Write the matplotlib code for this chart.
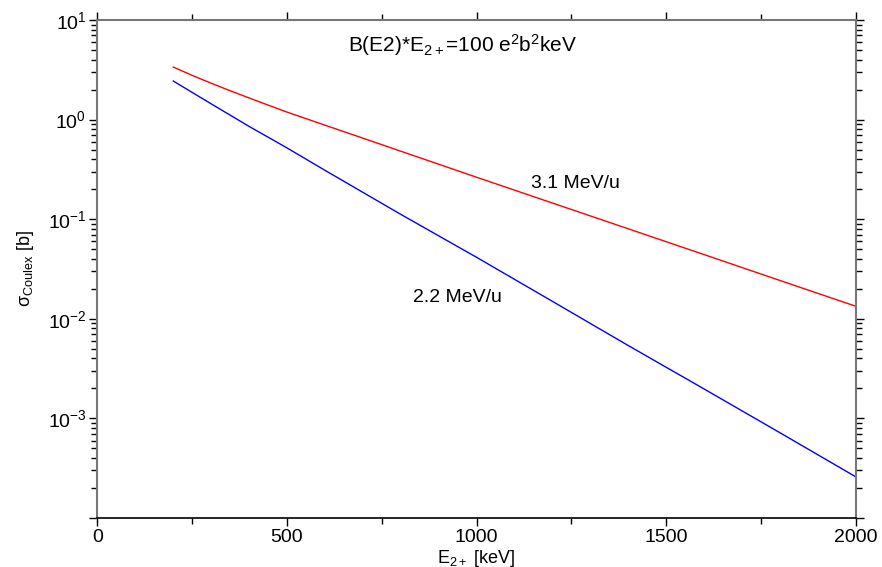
import matplotlib.pyplot as plt
import numpy as np

plt.rcParams['font.family'] = ['Liberation Sans', 'DejaVu Sans']
plt.rcParams['mathtext.fontset'] = 'custom'
plt.rcParams['mathtext.rm'] = 'Liberation Sans'
plt.rcParams['mathtext.it'] = 'Liberation Sans:italic'
plt.rcParams['mathtext.default'] = 'regular'

# E(2+) in keV and Coulex cross sections in barn
e_red = [200, 250, 300, 350, 400, 450, 500, 600, 700, 800, 900, 1000,
         1200, 1400, 1600, 1800, 2000]
sigma_31 = [3.37, 2.78, 2.32, 1.95, 1.65, 1.40, 1.19, 0.88, 0.652, 0.482, 0.357,
            0.264, 0.1455, 0.0802, 0.0442, 0.0243, 0.0134]

e_blue = [200, 300, 400, 500, 600, 800, 1000, 1200, 1400, 1600, 1800, 2000]
sigma_22 = [2.44, 1.44, 0.855, 0.52, 0.31, 0.112, 0.0415, 0.0150, 0.0054,
            0.00198, 0.00072, 0.00026]

xticks = [0, 500, 1000, 1500, 2000]
yticks = [1e-4, 1e-3, 1e-2, 1e-1, 1e0, 1e1]
ytick_labels = ['', r'$10^{-3}$', r'$10^{-2}$', r'$10^{-1}$', r'$10^{0}$', r'$10^{1}$']

fig = plt.figure(figsize=(8.82, 5.67), dpi=100)
ax = fig.add_axes([0.1105, 0.0864, 0.8595, 0.8783])

ax.plot(e_red, sigma_31, color='red', lw=1.0)
ax.plot(e_blue, sigma_22, color='blue', lw=1.0)

ax.set_yscale('log')
ax.set_xlim(0, 2000)
ax.set_ylim(1e-4, 1e1)
ax.set_xticks(xticks)
ax.set_xticks(np.arange(250, 2000, 500), minor=True)
ax.set_yticks(yticks)
ax.set_yticklabels(ytick_labels)
ax.set_yticks([m * 10.0 ** k for k in range(-4, 1) for m in range(2, 10)], minor=True)
ax.set_yticklabels([], minor=True)

ax.tick_params(which='both', direction='out', top=True, right=True,
               labelsize=14, color='black', width=1.0)
ax.tick_params(which='major', length=6, pad=2)
ax.tick_params(which='minor', length=4)

for side in ['left', 'top', 'right']:
    ax.spines[side].set_color('#777777')
    ax.spines[side].set_linewidth(1.5)
ax.spines['bottom'].set_color('black')
ax.spines['bottom'].set_linewidth(1.2)

ax.set_xlabel(r'E$_{2+}$ [keV]', fontsize=13, labelpad=1)
ax.set_ylabel(r'$\sigma_{Coulex}$ [b]', fontsize=13, labelpad=8)

ax.text(964, 5.6, r'B(E2)*E$_{2+}$=100 e$^2$b$^2$keV', fontsize=15,
        ha='center', va='center')
ax.text(1260, 0.23, '3.1 MeV/u', fontsize=14, ha='center', va='center')
ax.text(950, 0.0164, '2.2 MeV/u', fontsize=14, ha='center', va='center')

fig.savefig('out.png', dpi=100)
